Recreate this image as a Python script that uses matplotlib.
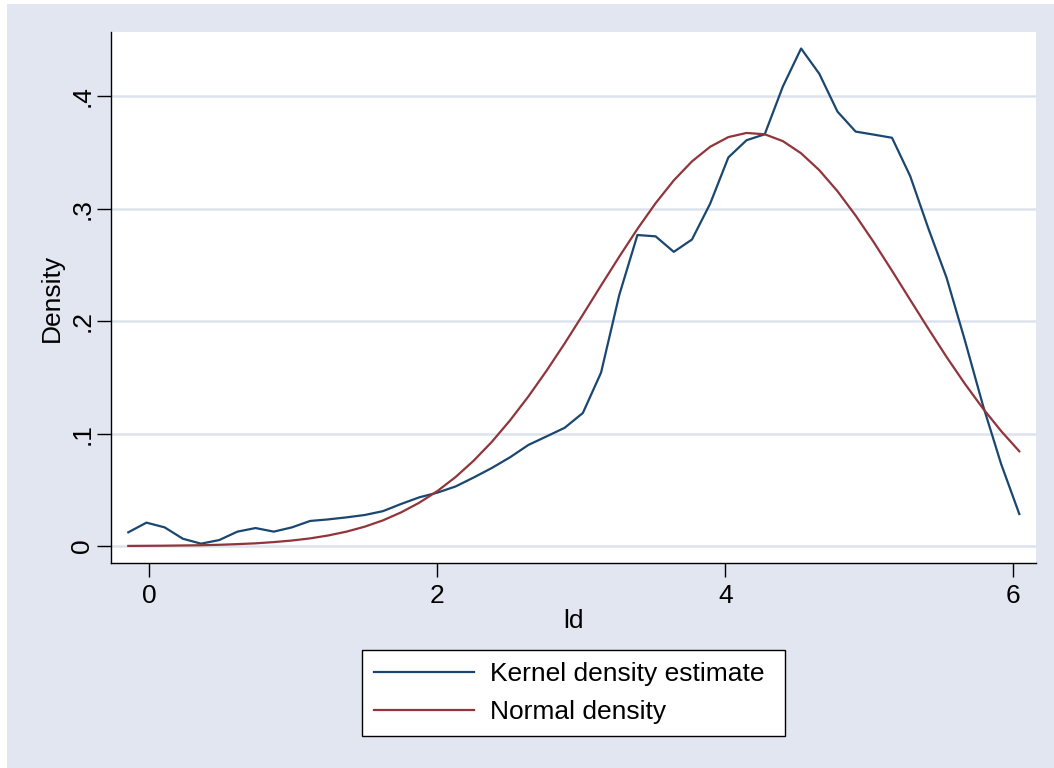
import numpy as np
import matplotlib
matplotlib.use("Agg")
import matplotlib.pyplot as plt
from matplotlib.patches import Rectangle

plt.rcParams['font.family'] = ['Liberation Sans', 'DejaVu Sans']

# ---- data ----
x_min = -0.146
x_max = 6.042
n_points = 50
kernel_density = [0.0122, 0.0208, 0.0166, 0.0065, 0.0021, 0.0053, 0.0128, 0.0160, 0.0128, 0.0166,
                  0.0223, 0.0237, 0.0255, 0.0276, 0.0310, 0.0374, 0.0433, 0.0475, 0.0530, 0.0610,
                  0.0695, 0.0790, 0.0899, 0.0975, 0.1052, 0.1184, 0.1543, 0.2233, 0.2767, 0.2755,
                  0.2617, 0.2727, 0.3046, 0.3457, 0.3610, 0.3663, 0.4089, 0.4426, 0.4202, 0.3865,
                  0.3687, 0.3660, 0.3632, 0.3291, 0.2825, 0.2387, 0.1834, 0.1252, 0.0730, 0.0285]
normal_density = [0.0001, 0.0002, 0.0003, 0.0005, 0.0007, 0.0011, 0.0017, 0.0024, 0.0035, 0.0049,
                  0.0068, 0.0094, 0.0128, 0.0172, 0.0228, 0.0299, 0.0385, 0.0489, 0.0614, 0.0760,
                  0.0928, 0.1119, 0.1330, 0.1559, 0.1803, 0.2058, 0.2318, 0.2574, 0.2821, 0.3050,
                  0.3253, 0.3422, 0.3552, 0.3638, 0.3675, 0.3663, 0.3602, 0.3494, 0.3344, 0.3157,
                  0.2940, 0.2702, 0.2449, 0.2190, 0.1933, 0.1682, 0.1445, 0.1224, 0.1023, 0.0843]
x_ticks = [0, 2, 4, 6]
x_tick_labels = ["0", "2", "4", "6"]
y_ticks = [0, 0.1, 0.2, 0.3, 0.4]
y_tick_labels = ["0", ".1", ".2", ".3", ".4"]
series_labels = ["Kernel density estimate", "Normal density"]
x_label = "ld"
y_label = "Density"

x_grid = np.linspace(x_min, x_max, n_points)

# ---- styling ----
W, H = 1054, 768
bg = "#E1E6F0"
grid_c = "#DDE3EE"
navy = "#1A476F"
maroon = "#90353B"
fs = 19

fig = plt.figure(figsize=(W / 100, H / 100), dpi=100)
fig.patch.set_facecolor("white")
fig.patches.append(Rectangle((7 / W, 0), 1 - 7 / W, (H - 4) / H, transform=fig.transFigure,
                             facecolor=bg, edgecolor="none", zorder=-10))

ax = fig.add_axes([111 / W, (H - 563) / H, (1036 - 111) / W, (563 - 32) / H])
ax.set_zorder(1)
ax.set_facecolor("white")
ax.plot(x_grid, kernel_density, color=navy, lw=1.6, label=series_labels[0], zorder=3,
        solid_joinstyle="round")
ax.plot(x_grid, normal_density, color=maroon, lw=1.6, label=series_labels[1], zorder=3,
        solid_joinstyle="round")

ax.set_xlim(-0.266, 6.158)
ax.set_ylim(-0.0151, 0.4573)
ax.set_xticks(x_ticks)
ax.set_xticklabels(x_tick_labels)
ax.set_yticks(y_ticks)
ax.set_yticklabels(y_tick_labels, rotation=90, va="center")
ax.tick_params(axis="both", direction="out", length=10, width=1, color="black",
               labelsize=fs)
ax.tick_params(axis="x", pad=5)
ax.tick_params(axis="y", pad=2)
ax.yaxis.grid(True, color=grid_c, lw=1.8)
ax.set_axisbelow(True)
for s in ["top", "right"]:
    ax.spines[s].set_visible(False)
for s in ["left", "bottom"]:
    ax.spines[s].set_color("black")
    ax.spines[s].set_linewidth(1)

ax.set_xlabel(x_label, fontsize=fs, labelpad=1)
ax.set_ylabel(y_label, fontsize=fs, labelpad=5)

leg = fig.legend(loc="center", bbox_to_anchor=(362 / W, (H - 736) / H, 423 / W, 86 / H),
                 mode="expand", frameon=True, fancybox=False, fontsize=fs, framealpha=1,
                 handlelength=3.8, handletextpad=0.6, labelspacing=0.53, borderpad=0.46,
                 borderaxespad=0)
leg.set_zorder(2)
leg.get_frame().set_edgecolor("black")
leg.get_frame().set_linewidth(1)
leg.get_frame().set_facecolor("white")

fig.savefig("out.png", dpi=100, facecolor=fig.get_facecolor())
